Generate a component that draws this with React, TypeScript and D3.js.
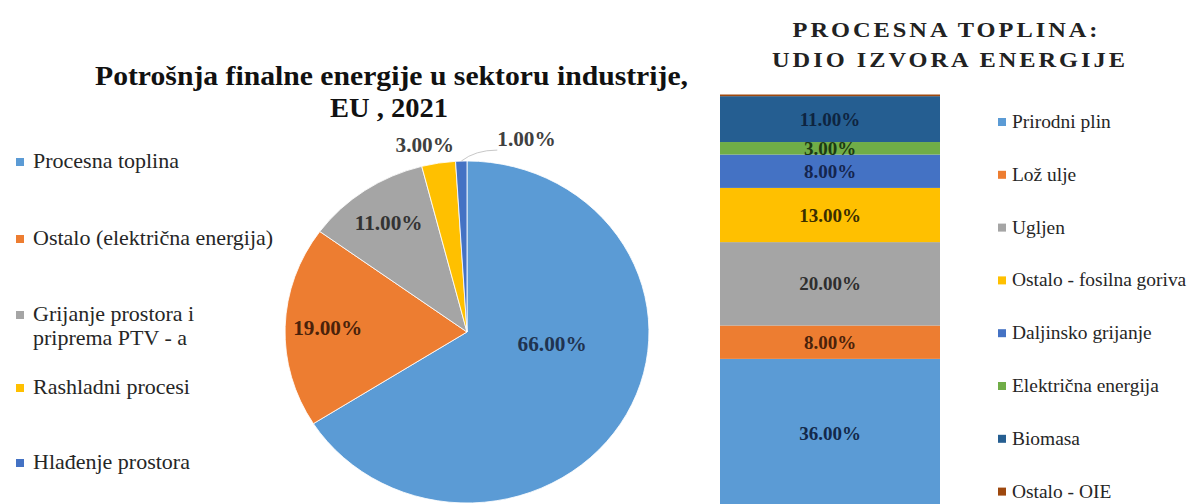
import React from "react";
import * as d3 from "d3";

// ---------- data ----------
const pieTitle1 = "Potrošnja finalne energije u sektoru industrije,";
const pieTitle2 = "EU , 2021";
const pieCategories = [
  "Procesna toplina",
  "Ostalo (električna energija)",
  "Grijanje prostora i|priprema PTV - a",
  "Rashladni procesi",
  "Hlađenje prostora",
];
const pieValues = [66, 19, 11, 3, 1];
const pieColors = ["#5B9BD5", "#ED7D31", "#A5A5A5", "#FFC000", "#4472C4"];
const pieLabelColors = ["#1F3350", "#4A220A", "#333333", "#404040", "#404040"];

const barTitle1 = "PROCESNA TOPLINA:";
const barTitle2 = "UDIO IZVORA ENERGIJE";
const barCategories = [
  "Prirodni plin",
  "Lož ulje",
  "Ugljen",
  "Ostalo - fosilna goriva",
  "Daljinsko grijanje",
  "Električna energija",
  "Biomasa",
  "Ostalo - OIE",
];
const barValues = [36, 8, 20, 13, 8, 3, 11, 0.4];
const barColors = ["#5B9BD5", "#ED7D31", "#A5A5A5", "#FFC000", "#4472C4", "#70AD47", "#255E91", "#9E480E"];
const barLabelColors = ["#13294A", "#4A220A", "#2E2E2E", "#3A2E00", "#14254F", "#1C3A12", "#0E2440", "#3A1A05"];

// ---------- layout ----------
const W = 1192;
const H = 504;
const SX = 1.064; // horizontal stretch of the original picture
const SERIF = "'Liberation Serif', 'Times New Roman', serif";

const pieCx = 467;
const pieCy = 332;
const pieR = 171;
// label placement: angle in degrees (clockwise from top) / radius; null angle => slice mid angle
const pieLabelLayout = [
  { a: 99, r: 81, mode: "center" },
  { a: null, r: 131, mode: "center" },
  { a: null, r: 131, mode: "center" },
  { a: 348, r: 191, mode: "center" },
  { a: null, r: 0, mode: "leader" },
];

const barX0 = 720;
const barX1 = 940;
const barBottom = 509;
const barPxPerPct = 4.17;

function S({ x, y, sx = SX, children, ...rest }: any) {
  return (
    <g transform={`translate(${x},${y}) scale(${sx},1)`}>
      <text {...rest}>{children}</text>
    </g>
  );
}

export default function App() {
  const pie = d3.pie<number>().sort(null).value((d) => d)(pieValues);
  const arc = d3.arc<any>().innerRadius(0).outerRadius(pieR);

  const y = d3.scaleLinear().domain([0, 100]).range([barBottom, barBottom - 100 * barPxPerPct]);
  const stacked: { v: number; y0: number; y1: number; i: number }[] = [];
  let acc = 0;
  barValues.forEach((v, i) => {
    stacked.push({ v, y0: acc, y1: acc + v, i });
    acc += v;
  });

  const fmt = d3.format(".2f");

  const polar = (deg: number, r: number) => {
    const a = (deg * Math.PI) / 180;
    return [pieCx + SX * r * Math.sin(a), pieCy - r * Math.cos(a)];
  };

  const leftLegendY = [162, 239, 315, 388, 463];
  const rightLegendY0 = 122;
  const rightLegendStep = 52.8;

  return (
    <svg
      width={W}
      height={H}
      style={{ position: "absolute", left: 0, top: 0, background: "#fff" }}
      fontFamily={SERIF}
    >
      <rect x={0} y={0} width={W} height={H} fill="#fff" />

      {/* ---------- pie title ---------- */}
      <text x={391.5} y={85} textAnchor="middle" fontSize={27} fontWeight="bold" fill="#111"
        textLength={593} lengthAdjust="spacingAndGlyphs">{pieTitle1}</text>
      <text x={389} y={117} textAnchor="middle" fontSize={27} fontWeight="bold" fill="#111"
        textLength={118} lengthAdjust="spacingAndGlyphs">{pieTitle2}</text>

      {/* ---------- pie ---------- */}
      <g transform={`translate(${pieCx},${pieCy}) scale(${SX},1)`}>
        {pie.map((p, i) => (
          <path key={i} d={arc(p) as string} fill={pieColors[i]} stroke="#fff" strokeWidth={0.8} />
        ))}
      </g>
      {pie.map((p, i) => {
        const L = pieLabelLayout[i];
        const mid = ((p.startAngle + p.endAngle) / 2) * 180 / Math.PI;
        const txt = fmt(pieValues[i]) + "%";
        if (L.mode === "leader") {
          const [sx0, sy0] = polar(mid, pieR);
          const lx = sx0 + 36;
          const ly = sy0 - 11;
          return (
            <g key={i}>
              <path d={`M${sx0},${sy0} Q${sx0 + 14},${ly} ${lx},${ly}`} fill="none" stroke="#c8c8c8" strokeWidth={1} />
              <S x={lx + 0} y={ly - 4} fontSize={20} fontWeight="bold" fill={pieLabelColors[i]} textAnchor="start">{txt}</S>
            </g>
          );
        }
        const [lx, ly] = polar(L.a == null ? mid : L.a, L.r);
        return (
          <S key={i} x={lx} y={ly} fontSize={20} fontWeight="bold" fill={pieLabelColors[i]}
            textAnchor="middle" dominantBaseline="central">{txt}</S>
        );
      })}

      {/* ---------- left legend ---------- */}
      {pieCategories.map((c, i) => {
        const lines = c.split("|");
        return (
          <g key={i}>
            <rect x={16} y={leftLegendY[i] - 4} width={8} height={8} fill={pieColors[i]} />
            {lines.map((ln, k) => (
              <S key={k} x={33} y={leftLegendY[i] + 6 + k * 24} sx={1.1} fontSize={20} fill="#262626">{ln}</S>
            ))}
          </g>
        );
      })}

      {/* ---------- bar title ---------- */}
      <S x={945} y={37} sx={1.22} fontSize={20} fontWeight="bold" fill="#222" textAnchor="middle"
        textLength={305 / 1.22} lengthAdjust="spacing">{barTitle1}</S>
      <S x={948.5} y={67} sx={1.22} fontSize={20} fontWeight="bold" fill="#222" textAnchor="middle"
        textLength={353 / 1.22} lengthAdjust="spacing">{barTitle2}</S>

      {/* ---------- stacked bar ---------- */}
      {stacked.map((s) => (
        <rect key={s.i} x={barX0} width={barX1 - barX0} y={y(s.y1)} height={y(s.y0) - y(s.y1)} fill={barColors[s.i]} />
      ))}
      {stacked.filter((s) => s.v >= 1).map((s) => (
        <text key={s.i} x={(barX0 + barX1) / 2} y={(y(s.y0) + y(s.y1)) / 2} textAnchor="middle"
          dominantBaseline="central" fontSize={19} fontWeight="bold" fill={barLabelColors[s.i]}>
          {fmt(s.v) + "%"}
        </text>
      ))}

      {/* ---------- right legend ---------- */}
      {barCategories.map((c, i) => {
        const cy = rightLegendY0 + i * rightLegendStep;
        return (
          <g key={i}>
            <rect x={998} y={cy - 4} width={8} height={8} fill={barColors[i]} />
            <S x={1012} y={cy + 6} sx={1.08} fontSize={18} fill="#262626">{c}</S>
          </g>
        );
      })}
    </svg>
  );
}
